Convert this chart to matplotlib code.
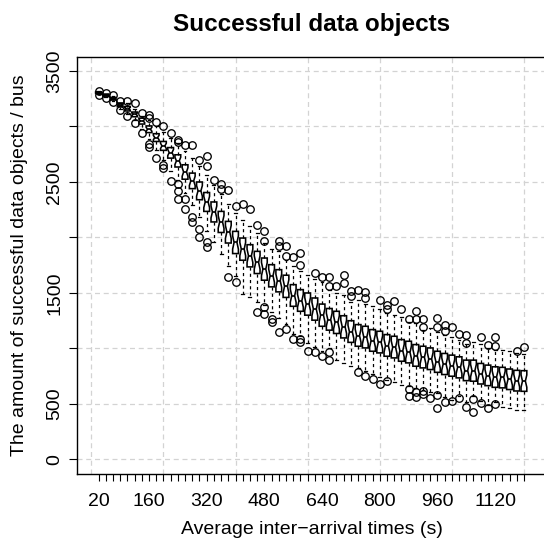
import numpy as np
import matplotlib
matplotlib.use("Agg")
import matplotlib.pyplot as plt

plt.rcParams['font.family'] = ['Liberation Sans', 'DejaVu Sans']

# average inter-arrival times (s), one box each
times = [20, 40, 60, 80, 100, 120, 140, 160, 180, 200,
         220, 240, 260, 280, 300, 320, 340, 360, 380, 400,
         420, 440, 460, 480, 500, 520, 540, 560, 580, 600,
         620, 640, 660, 680, 700, 720, 740, 760, 780, 800,
         820, 840, 860, 880, 900, 920, 940, 960, 980, 1000,
         1020, 1040, 1060, 1080, 1100, 1120, 1140, 1160, 1180, 1200]
shown_labels = [20, 160, 320, 480, 640, 800, 960, 1120]

med = [3305, 3283, 3250, 3195, 3160, 3110, 3050, 2975, 2900, 2825,
       2765, 2690, 2590, 2510, 2420, 2320, 2230, 2140, 2050, 1955,
       1895, 1835, 1775, 1715, 1655, 1610, 1560, 1475, 1430, 1400,
       1355, 1300, 1260, 1235, 1195, 1150, 1115, 1100, 1070, 1055,
       1025, 1010, 980, 965, 935, 920, 905, 878, 860, 845,
       830, 800, 800, 770, 755, 742, 740, 724, 709, 706]
q1 = [3298, 3274, 3238, 3178, 3140, 3088, 3022, 2945, 2865, 2785,
      2715, 2635, 2525, 2440, 2340, 2235, 2140, 2045, 1950, 1855,
      1795, 1735, 1675, 1615, 1555, 1510, 1460, 1380, 1335, 1300,
      1255, 1200, 1165, 1135, 1095, 1055, 1020, 1005, 975, 960,
      930, 915, 885, 870, 840, 825, 810, 785, 765, 750,
      735, 710, 705, 680, 665, 650, 645, 630, 617, 614]
q3 = [3312, 3292, 3262, 3212, 3180, 3130, 3075, 3005, 2935, 2865,
      2810, 2745, 2655, 2580, 2500, 2405, 2320, 2235, 2145, 2055,
      1995, 1935, 1875, 1815, 1755, 1710, 1660, 1575, 1530, 1500,
      1455, 1400, 1360, 1335, 1295, 1250, 1215, 1200, 1170, 1155,
      1125, 1110, 1080, 1065, 1035, 1020, 1005, 975, 955, 940,
      925, 895, 895, 865, 850, 835, 830, 815, 803, 800]
wlo = [3292, 3266, 3232, 3160, 3115, 3060, 2980, 2890, 2790, 2700,
       2600, 2520, 2400, 2290, 2180, 2060, 1960, 1850, 1740, 1650,
       1490, 1460, 1420, 1390, 1330, 1270, 1220, 1130, 1110, 1050,
       1010, 980, 1000, 900, 870, 840, 820, 800, 770, 740,
       720, 700, 670, 660, 640, 630, 610, 600, 560, 540,
       575, 520, 570, 530, 490, 520, 470, 460, 450, 448]
whi = [3316, 3295, 3275, 3215, 3210, 3160, 3090, 3060, 3000, 2950,
       2900, 2850, 2780, 2720, 2640, 2560, 2470, 2390, 2300, 2220,
       2160, 2100, 2040, 1950, 1900, 1880, 1800, 1740, 1700, 1660,
       1630, 1600, 1530, 1500, 1480, 1420, 1440, 1400, 1380, 1360,
       1320, 1300, 1280, 1240, 1230, 1170, 1180, 1150, 1120, 1100,
       1080, 1040, 1060, 1040, 1000, 990, 990, 980, 960, 950]
out_hi = [[3322], [3305], [3285], [3226], [3230], [3210], [3120], [3100, 3080], [3040], [3000],
          [2938], [2876, 2860], [2830], [2830], [2700], [2730, 2640], [2515], [2485, 2440], [2430], [2280],
          [2300], [2255], [2110], [2056, 1970], [], [1966, 1920], [1920, 1830], [1820], [1860, 1750], [],
          [1680], [1640], [1640, 1560], [1560], [1660, 1590], [1515, 1470], [1525], [1505, 1455], [], [1435],
          [1390, 1355], [1425], [1355], [1265], [1335, 1265], [1265, 1190], [], [1275, 1190], [1210, 1155], [1190],
          [1130], [1120, 1050], [], [1100], [1030], [1100, 1020], [], [], [977], [1013]]
out_lo = [[3286], [3258], [3222], [3150], [3092], [3030], [2940], [2840, 2812], [2720], [2650, 2630],
          [2510], [2480, 2415, 2345], [2345, 2255], [2180, 2140], [2075, 2005], [1960, 1915], [], [], [1640], [1600],
          [], [], [1330], [1372, 1310], [1265, 1238], [1148], [1175], [1085], [1085, 1058], [976],
          [967], [931], [967, 895], [], [], [], [787], [751], [724], [680],
          [706], [], [], [634, 571], [607, 562], [616, 589], [553], [580, 463], [517], [526],
          [553], [472], [544, 427], [508], [463], [499], [], [], [], []]

runs = 28  # used for notch size like R's boxplot

stats = []
for i in range(len(times)):
    iqr = q3[i] - q1[i]
    half = 1.58 * iqr / np.sqrt(runs)
    stats.append(dict(med=med[i], q1=q1[i], q3=q3[i],
                      whislo=wlo[i], whishi=whi[i],
                      fliers=np.array(out_hi[i] + out_lo[i]),
                      cilo=med[i] - half, cihi=med[i] + half))

fig = plt.figure(figsize=(5.44, 5.40), dpi=100)
ax = fig.add_axes([77 / 544, (540 - 474) / 540, (547 - 77) / 544, (474 - 57) / 540])

# dashed light grid behind the boxes
for gx in [0, 200, 400, 600, 800, 1000, 1200]:
    ax.axvline(gx, color='#d3d3d3', lw=0.9, ls=(0, (4, 3)), zorder=0)
for gy in [0, 500, 1000, 1500, 2000, 2500, 3000, 3500]:
    ax.axhline(gy, color='#d3d3d3', lw=0.9, ls=(0, (4, 3)), zorder=0)

ax.bxp(stats, positions=times, widths=16, capwidths=8,
       patch_artist=True, shownotches=True,
       boxprops=dict(facecolor='white', edgecolor='black', linewidth=1.15),
       whiskerprops=dict(color='black', linewidth=0.9, linestyle=(0, (2.5, 2.5))),
       capprops=dict(color='black', linewidth=0.9),
       medianprops=dict(color='black', linewidth=1.2),
       flierprops=dict(marker='o', markerfacecolor='none', markeredgecolor='black',
                       markersize=5.4, markeredgewidth=0.95))

ax.set_xlim(-39.7, 1264)
ax.set_ylim(-131, 3626)

ax.set_xticks(times)
ax.set_xticklabels([str(t) if t in shown_labels else '' for t in times])
ax.set_yticks([0, 500, 1000, 1500, 2000, 2500, 3000, 3500])
ax.set_yticklabels(['0', '500', '', '1500', '', '2500', '', '3500'])
ax.tick_params(axis='x', length=5, width=0.8, pad=9, labelsize=14)
ax.tick_params(axis='y', length=6, width=0.8, pad=4, labelsize=14, labelrotation=90)
for lab in ax.get_yticklabels():
    lab.set_va('center')

for s in ax.spines.values():
    s.set_linewidth(1.0)

fig.text(312 / 544, 1 - 25 / 540, 'Successful data objects', ha='center', va='center',
         fontsize=17.5, fontweight='bold')
fig.text(312 / 544, 1 - 530 / 540, 'Average inter\u2212arrival times (s)', ha='center', va='center',
         fontsize=14)
fig.text(20 / 544, 1 - 265.5 / 540, 'The amount of successful data objects / bus', ha='center',
         va='center', rotation=90, fontsize=14)

fig.savefig('out.png', dpi=100)
